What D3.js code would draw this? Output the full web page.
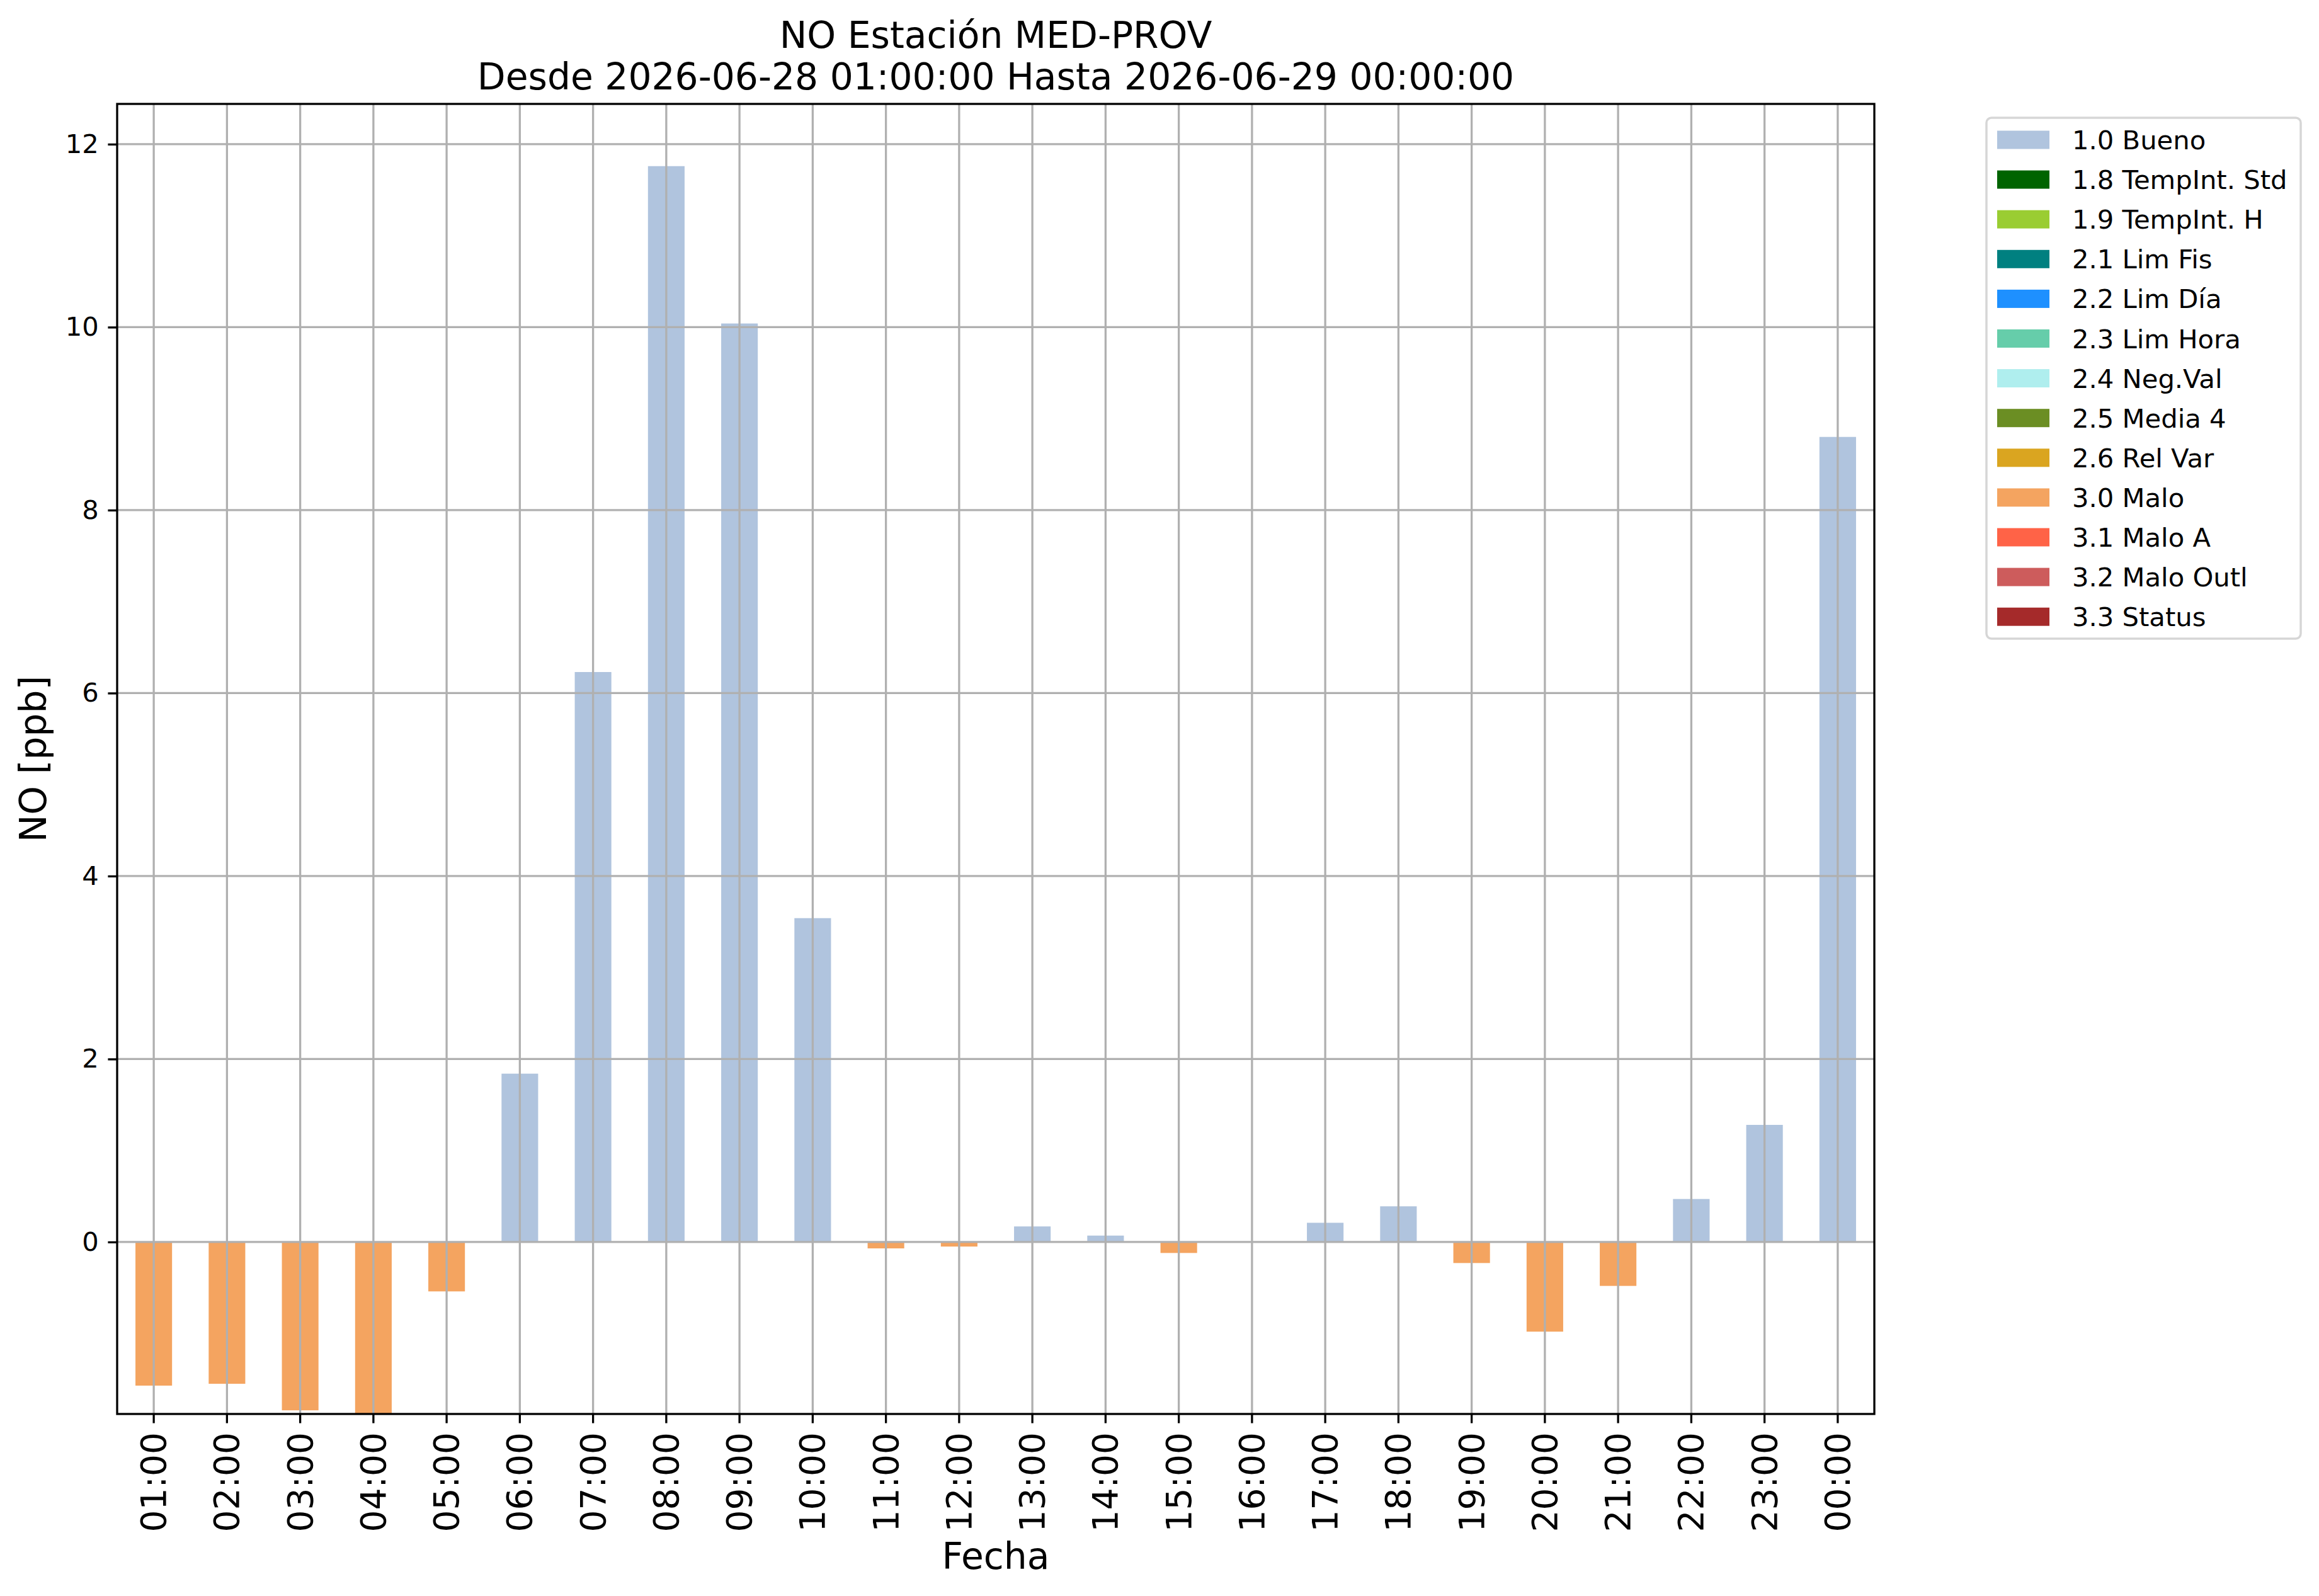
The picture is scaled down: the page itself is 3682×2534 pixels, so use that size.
<!DOCTYPE html>
<html lang="es">
<head>
<meta charset="UTF-8">
<title>NO Estación MED-PROV</title>
<script src="https://cdn.jsdelivr.net/npm/d3@7"></script>
<style>
    body { margin: 0; background: #fff; }
    text { font-family: "DejaVu Sans", sans-serif; fill: #000; }
</style>
</head>
<body>
<div id="figure"></div>
<script>
    // hourly values, 2026-06-28 01:00 .. 2026-06-29 00:00
    const hours = ["01:00", "02:00", "03:00", "04:00", "05:00", "06:00", "07:00", "08:00",
        "09:00", "10:00", "11:00", "12:00", "13:00", "14:00", "15:00", "16:00",
        "17:00", "18:00", "19:00", "20:00", "21:00", "22:00", "23:00", "00:00"];
    const values = [-1.57, -1.55, -1.84, -1.88, -0.54, 1.84, 6.23, 11.76,
        10.04, 3.54, -0.07, -0.05, 0.17, 0.07, -0.12, 0.0,
        0.21, 0.39, -0.23, -0.98, -0.48, 0.47, 1.28, 8.80];
    const flags = ["3.0", "3.0", "3.0", "3.0", "3.0", "1.0", "1.0", "1.0",
        "1.0", "1.0", "3.0", "3.0", "1.0", "1.0", "3.0", "1.0",
        "1.0", "1.0", "3.0", "3.0", "3.0", "1.0", "1.0", "1.0"];

    const flagCodes = ["1.0", "1.8", "1.9", "2.1", "2.2", "2.3", "2.4", "2.5", "2.6", "3.0", "3.1", "3.2", "3.3"];
    const flagNames = ["Bueno", "TempInt. Std", "TempInt. H", "Lim Fis", "Lim Día", "Lim Hora",
        "Neg.Val", "Media 4", "Rel Var", "Malo", "Malo A", "Malo Outl", "Status"];
    const flagColors = ["#B0C4DE", "#006400", "#9ACD32", "#008080", "#1E90FF", "#66CDAA",
        "#AFEEEE", "#6B8E23", "#DAA520", "#F4A460", "#FF6347", "#CD5C5C", "#A52A2A"];
    const yTicks = [0, 2, 4, 6, 8, 10, 12];
    const yDomain = [-1.88, 12.44];

    const W = 3682, H = 2534;
    const mLeft = 186, mRight = 2976, mTop = 165, mBottom = 2245;

    let svg = d3.select("#figure").append("svg")
        .attr("width", W)
        .attr("height", H);
    svg.append("rect").attr("width", W).attr("height", H).attr("fill", "#fff");

    let x = d3.scaleBand().domain(hours).range([mLeft, mRight]).padding(0);
    let y = d3.scaleLinear().domain(yDomain).range([mBottom, mTop]);
    let color = d3.scaleOrdinal().domain(flagCodes).range(flagColors);

    let plot = svg.append("g").attr("id", "plot");

    // bars
    let bw = x.bandwidth() * 0.5;
    plot.selectAll("rect.bar")
        .data(hours)
        .enter().append("rect")
        .attr("class", "bar")
        .attr("x", d => x(d) + x.bandwidth() / 2 - bw / 2)
        .attr("width", bw)
        .attr("y", (d, i) => y(Math.max(0, values[i])))
        .attr("height", (d, i) => Math.abs(y(values[i]) - y(0)))
        .attr("fill", (d, i) => color(flags[i]));

    // grid on top of bars
    let grid = plot.append("g").attr("stroke", "#b0b0b0").attr("stroke-width", 3.3);
    grid.selectAll("line.gx")
        .data(hours)
        .enter().append("line")
        .attr("class", "gx")
        .attr("x1", d => x(d) + x.bandwidth() / 2)
        .attr("x2", d => x(d) + x.bandwidth() / 2)
        .attr("y1", mTop).attr("y2", mBottom);
    grid.selectAll("line.gy")
        .data(yTicks)
        .enter().append("line")
        .attr("class", "gy")
        .attr("x1", mLeft).attr("x2", mRight)
        .attr("y1", d => y(d)).attr("y2", d => y(d));

    // axes
    let yAxis = svg.append("g")
        .attr("transform", `translate(${mLeft},0)`)
        .call(d3.axisLeft(y).tickValues(yTicks).tickSize(14.6).tickPadding(14.6).tickFormat(d3.format("d")));
    yAxis.select(".domain").remove();
    yAxis.selectAll("line").attr("stroke", "#000").attr("stroke-width", 3.3);
    yAxis.selectAll("text").attr("font-size", 41.7).attr("font-family", "DejaVu Sans");

    let xAxis = svg.append("g")
        .attr("transform", `translate(0,${mBottom})`)
        .call(d3.axisBottom(x).tickSize(14.6).tickPadding(0));
    xAxis.select(".domain").remove();
    xAxis.selectAll("line").attr("stroke", "#000").attr("stroke-width", 3.3);
    xAxis.selectAll("text")
        .attr("font-size", 55)
        .attr("font-family", "DejaVu Sans")
        .attr("text-anchor", "end")
        .attr("dy", null)
        .attr("dominant-baseline", "central")
        .attr("transform", "translate(0,29) rotate(-90)")
        .attr("y", 0)
        .attr("x", 0);

    // frame
    svg.append("rect")
        .attr("x", mLeft).attr("y", mTop)
        .attr("width", mRight - mLeft).attr("height", mBottom - mTop)
        .attr("fill", "none").attr("stroke", "#000").attr("stroke-width", 3.3);

    // titles
    svg.append("text")
        .attr("x", (mLeft + mRight) / 2).attr("y", 76)
        .attr("text-anchor", "middle").attr("font-size", 58.3)
        .text("NO Estación MED-PROV");
    svg.append("text")
        .attr("x", (mLeft + mRight) / 2).attr("y", 142)
        .attr("text-anchor", "middle").attr("font-size", 58.3)
        .text("Desde 2026-06-28 01:00:00 Hasta 2026-06-29 00:00:00");
    svg.append("text")
        .attr("x", (mLeft + mRight) / 2).attr("y", 2491)
        .attr("text-anchor", "middle").attr("font-size", 58.3)
        .text("Fecha");
    svg.append("text")
        .attr("transform", `translate(73,${(mTop + mBottom) / 2}) rotate(-90)`)
        .attr("text-anchor", "middle").attr("font-size", 58.3)
        .text("NO [ppb]");

    // legend
    let lg = svg.append("g").attr("transform", "translate(3154,187)");
    lg.append("rect")
        .attr("width", 499).attr("height", 827)
        .attr("rx", 8).attr("ry", 8)
        .attr("fill", "#fff").attr("fill-opacity", 0.8)
        .attr("stroke", "#d6d6d6").attr("stroke-width", 3.5);
    let rows = lg.selectAll("g.row")
        .data(flagCodes)
        .enter().append("g")
        .attr("class", "row")
        .attr("transform", (d, i) => `translate(0,${35 + i * 63.1})`);
    rows.append("rect")
        .attr("x", 17).attr("y", -14.5)
        .attr("width", 83).attr("height", 29)
        .attr("fill", d => color(d));
    rows.append("text")
        .attr("x", 136).attr("y", 15)
        .attr("font-size", 41.7)
        .text((d, i) => d + " " + flagNames[i]);
</script>
</body>
</html>
